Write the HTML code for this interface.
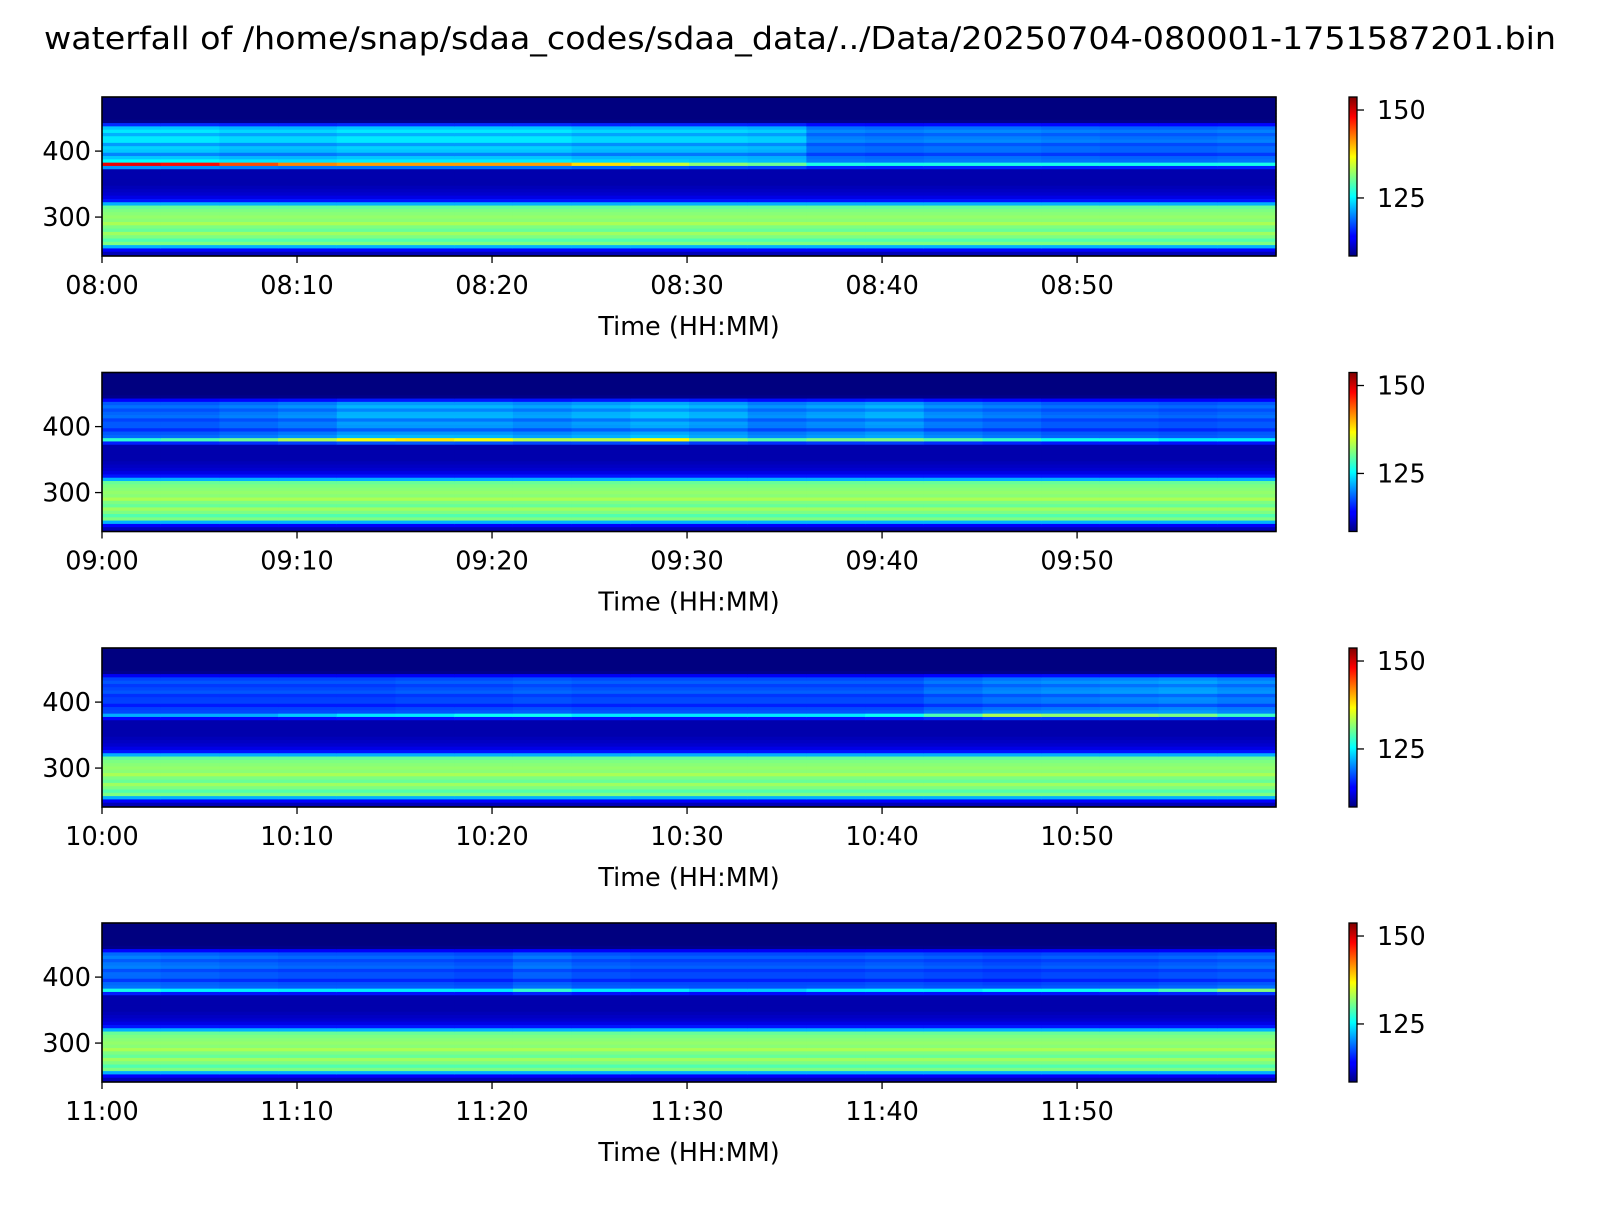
<!DOCTYPE html>
<html><head><meta charset="utf-8"><style>
html,body{margin:0;padding:0;background:#fff;}
svg text{font-family:"DejaVu Sans","Liberation Sans",sans-serif;fill:#000;}
</style></head><body>
<svg id="fig" xmlns="http://www.w3.org/2000/svg" width="1600" height="1200" viewBox="0 0 1600 1200">
<text x="800" y="49" font-size="31" text-anchor="middle" textLength="1512" lengthAdjust="spacingAndGlyphs">waterfall of /home/snap/sdaa_codes/sdaa_data/../Data/20250704-080001-1751587201.bin</text>
<defs>
<linearGradient id="jetgrad" x1="0" y1="1" x2="0" y2="0">
<stop offset="0" stop-color="#00007f"/><stop offset="0.11" stop-color="#0000ff"/><stop offset="0.125" stop-color="#0000ff"/>
<stop offset="0.34" stop-color="#00dbff"/><stop offset="0.375" stop-color="#00ffff"/><stop offset="0.5" stop-color="#7fff7f"/>
<stop offset="0.625" stop-color="#ffff00"/><stop offset="0.66" stop-color="#ffdb00"/><stop offset="0.875" stop-color="#ff0000"/><stop offset="1" stop-color="#7f0000"/>
</linearGradient>
</defs>
<g id="panels"></g>
</svg>
<script>
// frequency bin centers (MHz), top to bottom
const freqs = [480,475,470,465,460,455,450,445,440,435,430,425,420,415,410,405,400,395,390,385,380,375,370,365,360,355,350,345,340,335,330,325,320,315,310,305,300,295,290,285,280,275,270,265,260,255,250,245];
// baseline power per bin
const basePower = [108.5,108.5,108.5,108.5,108.5,108.5,108.5,109,112,113,113.5,113,112.5,113.5,113,112.5,113,112,113,113,115,112,110.5,110.5,110.5,110.5,110.5,111,111.5,112,113,115,122,130,131,131.5,132,131.5,133,131,130,132.5,131,129,131,122,114,111];
// weight of upper-band activity per bin
const bandGain = [0,0,0,0,0,0,0,0,4,10,11,9,12,11,8,11,10,8,10,9,4,3,0,0,0,0,0,0,0,0,0,0,0,0,0,0,0,0,0,0,0,0,0,0,0,0,0,0];
// weight of narrow line activity per bin
const lineGain = [0,0,0,0,0,0,0,0,0,0,0,0,0,0,0,0,0,0,0,3,26,5,0,0,0,0,0,0,0,0,0,0,0,0,0,0,0,0,0,0,0,0,0,0,0,0,0,0];
// per-hour activity (20 x 3-minute steps)
const hourLabels = ["08","09","10","11"];
const bandAct1 = [1,1,0.9,0.9,1,1,1,1,0.9,0.9,0.9,0.85,0.45,0.4,0.45,0.45,0.4,0.35,0.35,0.4];
const lineAct1 = [1.15,1.1,1.0,0.9,0.85,0.85,0.85,0.85,0.75,0.6,0.5,0.45,0.35,0.35,0.35,0.35,0.35,0.35,0.35,0.35];
const bandAct2 = [0.3,0.3,0.4,0.5,0.7,0.7,0.7,0.6,0.7,0.8,0.7,0.5,0.6,0.7,0.5,0.4,0.3,0.3,0.25,0.3];
const lineAct2 = [0.4,0.45,0.5,0.6,0.7,0.75,0.7,0.6,0.6,0.7,0.5,0.45,0.5,0.5,0.45,0.4,0.35,0.35,0.3,0.3];
const bandAct3 = [0.15,0.15,0.15,0.15,0.15,0.2,0.2,0.25,0.2,0.2,0.2,0.2,0.2,0.2,0.35,0.45,0.5,0.55,0.6,0.5];
const lineAct3 = [0.2,0.2,0.2,0.25,0.3,0.3,0.35,0.35,0.3,0.3,0.3,0.3,0.3,0.35,0.45,0.6,0.55,0.55,0.5,0.4];
const bandAct4 = [0.4,0.35,0.3,0.25,0.25,0.25,0.2,0.35,0.25,0.2,0.2,0.2,0.2,0.25,0.2,0.15,0.2,0.2,0.25,0.3];
const lineAct4 = [0.35,0.3,0.3,0.3,0.3,0.3,0.3,0.4,0.3,0.3,0.25,0.25,0.3,0.3,0.3,0.35,0.35,0.4,0.45,0.55];
const xTickMinutes = [0,10,20,30,40,50];
const yTicks = [300,400];
const cbTicks = [125,150];

const bandActs=[bandAct1,bandAct2,bandAct3,bandAct4];
const lineActs=[lineAct1,lineAct2,lineAct3,lineAct4];
const NS="http://www.w3.org/2000/svg";
const L=102,R=1276,PH=159,tops=[97,372.5,648,923];
const FMAX=482,FMIN=241,TMAX=60.2,VMIN=108.5,VMAX=153.7;
const xs=m=>L+m/TMAX*(R-L);
const ys=(f,top)=>top+(FMAX-f)/(FMAX-FMIN)*PH;
const cs=(v,top)=>top+(VMAX-v)/(VMAX-VMIN)*PH;
function jet(v){let t=Math.max(0,Math.min(1,(v-VMIN)/(VMAX-VMIN)));
 const c=x=>Math.round(255*Math.max(0,Math.min(1,1.5-Math.abs(4*t-x))));
 return `rgb(${c(3)},${c(2)},${c(1)})`;}
function el(tag,attrs,parent){const e=document.createElementNS(NS,tag);for(const k in attrs)e.setAttribute(k,attrs[k]);parent.appendChild(e);return e;}
const root=document.getElementById('panels');
const stepMin=TMAX/20;
tops.forEach((top,p)=>{
 const g=el('g',{},root);
 
 
 bandActs[p].forEach((a,t)=>{
  freqs.forEach((f,i)=>{
   const v=basePower[i]+bandGain[i]*(0.3+0.7*a)+lineGain[i]*lineActs[p][t];
   const x0=xs(t*stepMin),x1=xs((t+1)*stepMin);
   const y0=ys(f+2.5,top),y1=ys(f-2.5,top);
   const r=el('rect',{x:x0,y:Math.max(top,y0),width:x1-x0+0.6,height:Math.min(top+PH,y1)-Math.max(top,y0)+0.6,fill:jet(v)},g);
   
   
  });
 });
 const fr=el('rect',{x:L,y:top,width:R-L,height:PH,fill:'none',stroke:'#000','stroke-width':1.6},g);
 
 
 xTickMinutes.forEach(m=>{
  const x=xs(m);
  el('line',{x1:x,x2:x,y1:top+PH,y2:top+PH+7,stroke:'#000','stroke-width':1.3},g);
  const tx=el('text',{x:x,y:top+PH+38,'font-size':25.5,'text-anchor':'middle'},g);
  tx.textContent=hourLabels[p]+':'+String(m).padStart(2,'0');
  
  
 });
 yTicks.forEach(f=>{
  const y=ys(f,top);
  el('line',{x1:L-7,x2:L,y1:y,y2:y,stroke:'#000','stroke-width':1.3},g);
  const ty=el('text',{x:L-11,y:y+9,'font-size':25.5,'text-anchor':'end'},g);
  ty.textContent=f;
  
  
 });
 const xl=el('text',{x:(L+R)/2,y:top+PH+79,'font-size':25.5,'text-anchor':'middle'},g);
 xl.textContent='Time (HH:MM)';
 
 
 const cb=el('rect',{x:1349,y:top,width:8,height:PH,fill:'url(#jetgrad)',stroke:'#000','stroke-width':1.3},g);
 
 
 cbTicks.forEach(v=>{
  const y=cs(v,top);
  el('line',{x1:1357,x2:1364,y1:y,y2:y,stroke:'#000','stroke-width':1.3},g);
  const ct=el('text',{x:1377,y:y+9,'font-size':25.5},g);
  ct.textContent=v;
  
  
 });
});
</script>
</body></html>
